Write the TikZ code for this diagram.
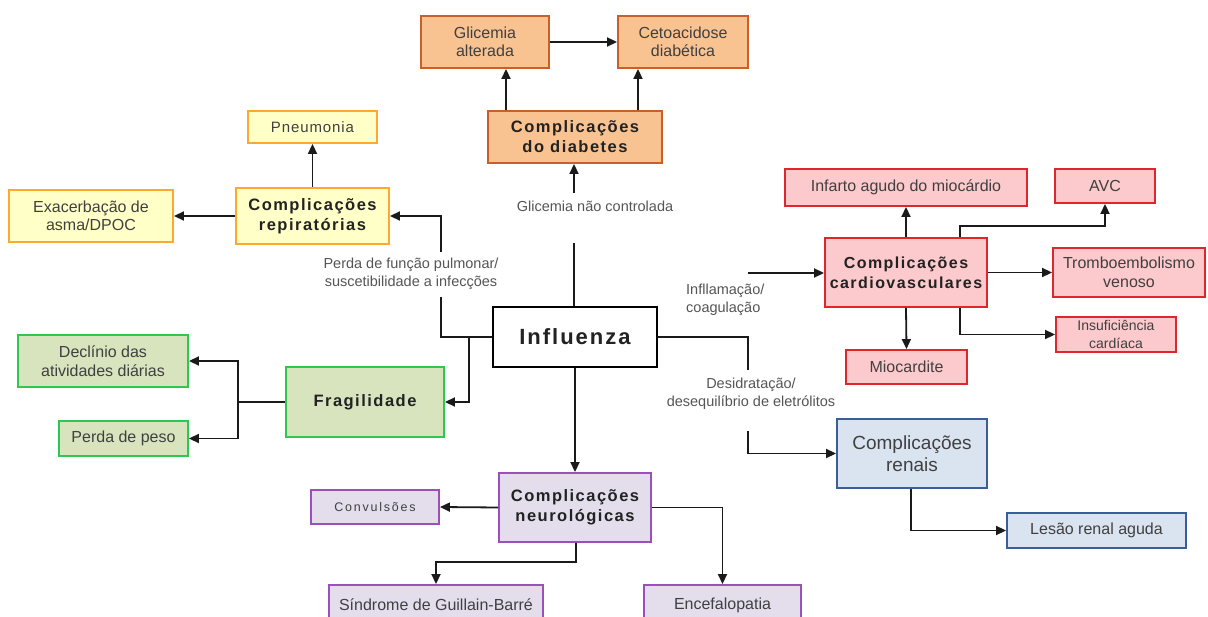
\documentclass[tikz,border=0pt]{standalone}
\usepackage{fontspec}
\setmainfont{Liberation Sans}
\newfontfamily\bsp[LetterSpace=9]{Liberation Sans}
\newfontfamily\lsp[LetterSpace=6]{Liberation Sans}
\newfontfamily\csp[LetterSpace=14]{Liberation Sans}
\usetikzlibrary{arrows.meta,calc}
\definecolor{txt}{HTML}{404040}
\definecolor{btxt}{HTML}{222222}
\definecolor{lbl}{HTML}{555555}
\definecolor{lin}{HTML}{1A1A1A}
\definecolor{diaF}{HTML}{F9C291}
\definecolor{diaD}{HTML}{C9602A}
\definecolor{resF}{HTML}{FFFFC8}
\definecolor{resD}{HTML}{FFA830}
\definecolor{froF}{HTML}{D7E4BD}
\definecolor{froD}{HTML}{2EC751}
\definecolor{carF}{HTML}{FCC9CC}
\definecolor{carD}{HTML}{E0262D}
\definecolor{renF}{HTML}{DAE3F0}
\definecolor{renD}{HTML}{3C5E98}
\definecolor{neuF}{HTML}{E3DDEC}
\definecolor{neuD}{HTML}{9A4FBC}
\tikzset{
  box/.style={draw, line width=1.9pt, align=center, inner sep=0pt, text=txt,
    font=\fontsize{16}{18.5}\selectfont},
  bold/.style={text=btxt, font=\bsp\bfseries\fontsize{16.5}{20}\selectfont},
  dia/.style={box, fill=diaF, draw=diaD},
  res/.style={box, fill=resF, draw=resD},
  fra/.style={box, fill=froF, draw=froD},
  car/.style={box, fill=carF, draw=carD},
  ren/.style={box, fill=renF, draw=renD},
  neu/.style={box, fill=neuF, draw=neuD},
  lab/.style={align=center, text=lbl, inner sep=0pt, font=\fontsize{14.5}{18}\selectfont},
  arr/.style={-{Triangle[length=10pt,width=9pt]}, line width=1.8pt, draw=lin},
  ln/.style={line width=1.8pt, draw=lin}
}
\begin{document}
\begin{tikzpicture}[x=1pt,y=-1pt]
\path[use as bounding box] (0,0) rectangle (1208,617);
\clip (0,0) rectangle (1208,617);
\fill[white] (0,0) rectangle (1208,617);

% diabetes
\node[dia, minimum width=128pt, minimum height=52pt] (gli) at (485,42) {Glicemia\\alterada};
\node[dia, minimum width=130pt, minimum height=52pt] (ceto) at (683,42) {Cetoacidose\\diabética};
\node[dia, bold, minimum width=174pt, minimum height=52pt] (diab) at (575,137) {Complicações\\do diabetes};
\node[lab] (glab) at (595,206) {Glicemia não controlada};

% respiratory
\node[res, minimum width=129pt, minimum height=32pt, font=\lsp\fontsize{15}{18}\selectfont] (pneu) at (312.5,127) {Pneumonia};
\node[res, bold, minimum width=153pt, minimum height=56pt] (resp) at (312.5,216) {Complicações\\repiratórias};
\node[res, minimum width=164pt, minimum height=52pt] (exac) at (91,216) {Exacerbação de\\asma/DPOC};
\node[lab] (plab) at (411,274) {Perda de função pulmonar/\\suscetibilidade a infecções};

% influenza
\node[box, fill=white, draw=black, minimum width=164pt, minimum height=60pt, text=btxt,
  font=\bsp\bfseries\fontsize{22}{26}\selectfont] (infl) at (575,337) {Influenza};

% frailty
\node[fra, bold, minimum width=158pt, minimum height=70pt] (frag) at (365,402) {Fragilidade};
\node[fra, minimum width=170pt, minimum height=52pt] (decl) at (103,361) {Declínio das\\atividades diárias};
\node[fra, minimum width=129pt, minimum height=35pt] (peso) at (123.5,438.5) {Perda de peso};

% cardiovascular
\node[car, bold, minimum width=162pt, minimum height=69pt, font=\bsp\bfseries\fontsize{16}{20}\selectfont] (cardio) at (906,272.5) {Complicações\\cardiovasculares};
\node[car, minimum width=242pt, minimum height=37pt] (infarto) at (906,187.5) {Infarto agudo do miocárdio};
\node[car, minimum width=100pt, minimum height=34pt] (avc) at (1105,186) {AVC};
\node[car, minimum width=152pt, minimum height=49pt] (trombo) at (1129,272.5) {Tromboembolismo\\venoso};
\node[car, minimum width=120pt, minimum height=35pt, font=\fontsize{14}{18}\selectfont] (insuf) at (1116,334.5) {Insuficiência\\cardíaca};
\node[car, minimum width=121pt, minimum height=34pt] (mioc) at (906.5,367) {Miocardite};
\node[lab, anchor=west, align=left] (ilab) at (686,299.5) {Infllamação/\\coagulação};

% renal
\node[lab] (dlab) at (751,394) {Desidratação/\\desequilíbrio de eletrólitos};
\node[ren, minimum width=150pt, minimum height=69pt, font=\fontsize{19}{22}\selectfont] (renal) at (912,453.5) {Complicações\\renais};
\node[ren, minimum width=179pt, minimum height=35pt] (lesao) at (1096.5,530.5) {Lesão renal aguda};

% neuro
\node[neu, bold, minimum width=152pt, minimum height=69pt] (neuro) at (575,507.5) {Complicações\\neurológicas};
\node[neu, minimum width=128pt, minimum height=34pt, font=\csp\fontsize{12.5}{15}\selectfont] (conv) at (375,507) {Convulsões};
\node[neu, minimum width=214pt, minimum height=40pt] (sind) at (436,605) {Síndrome de Guillain-Barré};
\node[neu, minimum width=157pt, minimum height=40pt] (ence) at (722.5,605) {Encefalopatia};

% coordinates
\coordinate (g1) at (574,193);
\coordinate (g2) at (574,243);
\coordinate (p1) at (441,252);
\coordinate (p2) at (441,297);
\coordinate (f1) at (469,337);
\coordinate (f2) at (238,402);
\coordinate (r1) at (748,337);
\coordinate (r2) at (748,370);
\coordinate (c1) at (748,273);
\coordinate (r3) at (748,431);
\coordinate (a1) at (960,226);
\coordinate (i1) at (960,334.5);
\coordinate (n1) at (576,562);

% diabetes connectors
\draw[arr] (gli.east) -- (ceto.west);
\draw[arr] ([xshift=-69pt]diab.north) -- ([xshift=-69pt]diab.north |- gli.south);
\draw[arr] ([xshift=63pt]diab.north) -- ([xshift=63pt]diab.north |- ceto.south);
\draw[arr] (g1) -- (g1 |- diab.south);
\draw[ln] (infl.north -| g2) -- (g2);

% respiratory connectors
\draw[arr] (p1) -- (p1 |- resp.east) -- (resp.east);
\draw[ln] (p2) -- (p2 |- infl.west) -- (infl.west);
\draw[arr] (resp.north) -- (pneu.south);
\draw[arr] (resp.west) -- (exac.east);

% frailty connectors
\draw[arr] (f1) -- (f1 |- frag.east) -- (frag.east);
\draw[ln] (frag.west) -- (f2);
\draw[arr] (f2) -- (f2 |- decl.east) -- (decl.east);
\draw[arr] (f2) -- (f2 |- peso.east) -- (peso.east);

% right side
\draw[ln] (infl.east) -- (r1) -- (r2);
\draw[arr] (c1) -- (c1 -| cardio.west);
\draw[arr] (r3) -- (r3 |- renal.west) -- (renal.west);
\draw[arr] ([xshift=-1pt]renal.south) -- ([xshift=-1pt]renal.south |- lesao.west) -- (lesao.west);

% cardio connectors
\draw[arr] (cardio.north) -- (infarto.south);
\draw[arr] (cardio.south) -- (mioc.north);
\draw[arr] (a1 |- cardio.north) -- (a1) -- (a1 -| avc.south) -- (avc.south);
\draw[arr] (cardio.east) -- (trombo.west);
\draw[arr] (i1 |- cardio.south) -- (i1) -- (insuf.west);

% neuro connectors
\draw[arr] (infl.south) -- (neuro.north);
\draw[arr] (neuro.west) -- (conv.east);
\draw[arr] (neuro.south -| n1) -- (n1) -- (n1 -| sind.north) -- (sind.north);
\draw[arr] (neuro.east) -- (neuro.east -| ence.north) -- (ence.north);
\end{tikzpicture}
\end{document}
